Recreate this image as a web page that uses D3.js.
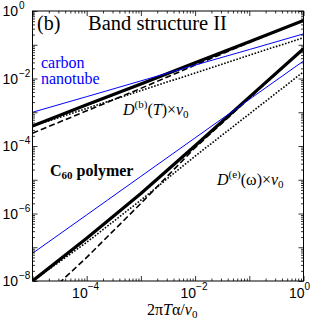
<!DOCTYPE html>
<html><head><meta charset="utf-8">
<script src="https://cdn.jsdelivr.net/npm/d3@7"></script>
<style>body{margin:0;background:#fff}svg{display:block}</style>
</head><body>
<svg id="c" width="317" height="327"></svg>
<script>
// ---- data ----
const xValues = [1e-5, 1e-4, 1e-3, 1e-2, 1e-1, 1];
// D^(b)(T) x v0 (upper group)
const bandBlue   = [1.0e-3, 2.9e-3, 8.5e-3, 2.5e-2, 7.2e-2, 2.1e-1];
const bandSolid  = [3.9e-4, 1.66e-3, 6.9e-3, 2.95e-2, 1.23e-1, 5.2e-1];
const bandDashed = [2.4e-4, 1.1e-3, 5.1e-3, 2.5e-2, 1.17e-1, 5.2e-1];
const bandDotted = [3.9e-4, 1.29e-3, 4.4e-3, 1.45e-2, 4.9e-2, 1.62e-1];
// D^(e)(omega) x v0 (lower group)
const elecBlue   = [6.6e-8, 9.1e-7, 1.26e-5, 1.74e-4, 2.4e-3, 3.3e-2];
const elecSolid  = [1.0e-8, 1.86e-7, 3.9e-6, 1.02e-4, 2.8e-3, 7.6e-2];
const elecDashed = [1.6e-9, 5.0e-8, 2.0e-6, 8.9e-5, 2.6e-3, 7.6e-2];
const elecDotted = [1.0e-8, 1.4e-7, 2.5e-6, 5.0e-5, 8.9e-4, 1.58e-2];
const xTickLabels = [-4, -2, 0];
const yTickLabels = [0, -2, -4, -6, -8];

const svg = d3.select("#c");
const L = 32.5, R = 303.5, T = 11, B = 281;
const x = d3.scaleLog().domain([1e-5, 1]).range([L, R]);
const y = d3.scaleLog().domain([1e-8, 1]).range([B, T]);

svg.append("clipPath").attr("id", "clip").append("rect")
  .attr("x", L).attr("y", T).attr("width", R - L).attr("height", B - T);

const line = d3.line().x(d => x(d[0])).y(d => y(d[1]));
const series = [
  {v: bandDotted, c: "#000", w: 1.6, dash: "1.6,1.6"},
  {v: bandDashed, c: "#000", w: 1.6, dash: "6,3"},
  {v: bandSolid,  c: "#000", w: 3.2, dash: null},
  {v: bandBlue,   c: "#0000ff", w: 1, dash: null},
  {v: elecDotted, c: "#000", w: 1.6, dash: "1.6,1.6"},
  {v: elecDashed, c: "#000", w: 1.6, dash: "6,3"},
  {v: elecSolid,  c: "#000", w: 3.2, dash: null},
  {v: elecBlue,   c: "#0000ff", w: 1, dash: null},
];
const g = svg.append("g").attr("clip-path", "url(#clip)");
series.forEach(s => {
  g.append("path").datum(xValues.map((xv, i) => [xv, s.v[i]]))
    .attr("d", line).attr("fill", "none").attr("stroke", s.c)
    .attr("stroke-width", s.w).attr("stroke-dasharray", s.dash);
});

// ---- axes (ticks inward on all four sides) ----
const minorX = [], minorY = [];
for (let e = -5; e < 0; e++) for (let m = 2; m <= 9; m++) minorX.push(m * Math.pow(10, e));
for (let e = -8; e < 0; e++) for (let m = 2; m <= 9; m++) minorY.push(m * Math.pow(10, e));
const majorX = d3.range(-5, 1).map(e => Math.pow(10, e));
const majorY = d3.range(-8, 1).map(e => Math.pow(10, e));

function ax(gen, scale, vals, size, tr) {
  svg.append("g").attr("transform", tr)
    .call(gen(scale).tickValues(vals).tickSize(-size).tickFormat(""))
    .call(s => s.select(".domain").remove())
    .selectAll("line").attr("stroke", "#000").attr("stroke-width", 0.8);
}
ax(d3.axisBottom, x, majorX, 5, `translate(0,${B})`);
ax(d3.axisBottom, x, minorX, 2.5, `translate(0,${B})`);
ax(d3.axisTop, x, majorX, 5, `translate(0,${T})`);
ax(d3.axisTop, x, minorX, 2.5, `translate(0,${T})`);
ax(d3.axisLeft, y, majorY, 5, `translate(${L},0)`);
ax(d3.axisLeft, y, minorY, 2.5, `translate(${L},0)`);
ax(d3.axisRight, y, majorY, 5, `translate(${R},0)`);
ax(d3.axisRight, y, minorY, 2.5, `translate(${R},0)`);

svg.append("rect").attr("x", L).attr("y", T).attr("width", R - L).attr("height", B - T)
  .attr("fill", "none").attr("stroke", "#000").attr("stroke-width", 1);

// tick labels
const sans = "Liberation Sans, Arial, sans-serif";
xTickLabels.forEach(e => {
  svg.append("text").attr("font-family", sans).attr("font-size", 14)
    .attr("x", x(Math.pow(10, e)) + 1).attr("y", 298).attr("text-anchor", "end").text("10");
  svg.append("text").attr("font-family", sans).attr("font-size", 10)
    .attr("x", x(Math.pow(10, e)) + 1).attr("y", 290)
    .text(e === 0 ? "0" : "\u2212" + (-e));
});
yTickLabels.forEach(e => {
  const yy = y(Math.pow(10, e));
  svg.append("text").attr("font-family", sans).attr("font-size", 14)
    .attr("x", 18).attr("y", yy + 5).attr("text-anchor", "end").text("10");
  svg.append("text").attr("font-family", sans).attr("font-size", 10)
    .attr("x", 19).attr("y", yy - 2)
    .text(e === 0 ? "0" : "\u2212" + (-e));
});

// annotations
const serif = "Liberation Serif, Times New Roman, serif";
svg.append("text").attr("font-family", serif).attr("font-size", 20)
  .attr("x", 37).attr("y", 30).text("(b)");
svg.append("text").attr("font-family", serif).attr("font-size", 20.5)
  .attr("x", 88).attr("y", 30).text("Band structure II");
svg.append("text").attr("font-family", serif).attr("font-size", 16).attr("fill", "#0000ff")
  .attr("x", 41).attr("y", 68).text("carbon");
svg.append("text").attr("font-family", serif).attr("font-size", 16).attr("fill", "#0000ff")
  .attr("x", 41).attr("y", 84).text("nanotube");

const c60 = svg.append("text").attr("font-family", serif).attr("font-size", 16)
  .attr("font-weight", "bold").attr("x", 50).attr("y", 176);
c60.append("tspan").text("C");
c60.append("tspan").attr("font-size", 11).attr("dy", 3).text("60");
c60.append("tspan").attr("dy", -3).text(" polymer");

function dlabel(xp, yp, sup, arg) {
  const t = svg.append("text").attr("font-family", serif).attr("font-size", 16)
    .attr("x", xp).attr("y", yp);
  t.append("tspan").attr("font-style", "italic").text("D");
  t.append("tspan").attr("font-size", 11).attr("dy", -7).text(sup);
  t.append("tspan").attr("dy", 7).text("(");
  arg(t);
  t.append("tspan").text(")\u00d7");
  t.append("tspan").attr("font-style", "italic").text("v");
  t.append("tspan").attr("font-size", 11).attr("dy", 3).text("0");
}
dlabel(123, 115, "(b)", t => t.append("tspan").attr("font-style", "italic").text("T"));
dlabel(217, 185, "(e)", t => t.append("tspan").text("\u03c9"));

const xl = svg.append("text").attr("font-family", serif).attr("font-size", 16)
  .attr("x", 147).attr("y", 315);
xl.append("tspan").text("2\u03c0");
xl.append("tspan").attr("font-style", "italic").text("T");
xl.append("tspan").text("\u03b1/");
xl.append("tspan").attr("font-style", "italic").text("v");
xl.append("tspan").attr("font-size", 11).attr("dy", 3).text("0");
</script>
</body></html>
